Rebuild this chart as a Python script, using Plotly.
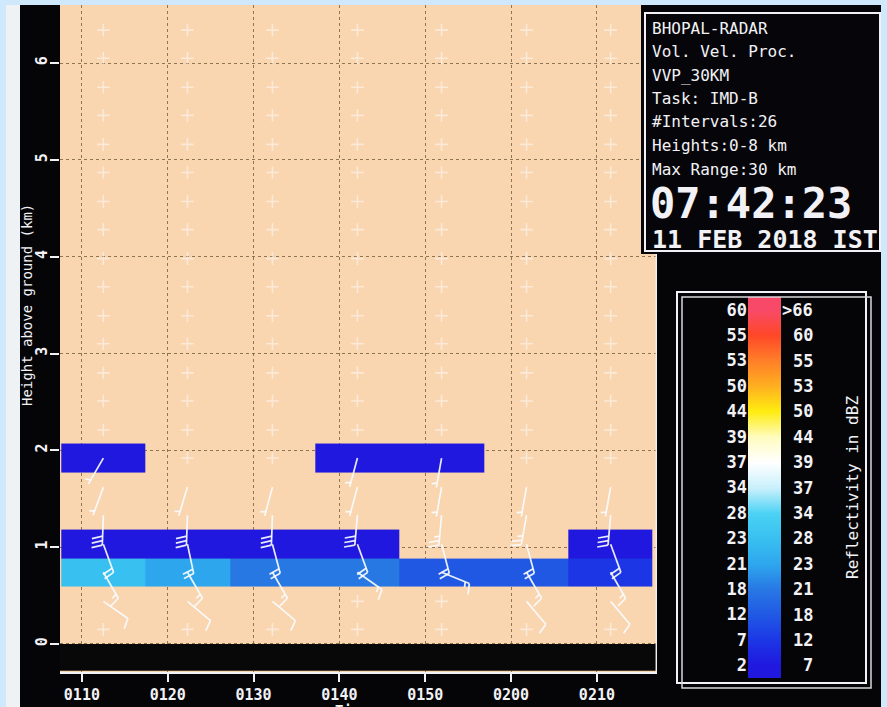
import math
import plotly.graph_objects as go

W, H = 887, 707

# ---------------- data ----------------
# scan (column) centre times, minutes after 01:00
scan_minutes = [12.5, 22.3, 32.2, 42.1, 51.9, 61.8, 71.6]
time_tick_minutes = [10, 20, 30, 40, 50, 60, 70]
time_tick_labels = ["0110", "0120", "0130", "0140", "0150", "0200", "0210"]
height_ticks_km = [0, 1, 2, 3, 4, 5, 6]

# VVP height levels (km) where the "+" (no data) symbols / barbs sit
vvp_levels_km = [0.15, 0.44, 0.74, 1.03, 1.33, 1.62, 1.92, 2.21, 2.51, 2.80, 3.10,
                 3.39, 3.69, 3.98, 4.28, 4.57, 4.87, 5.16, 5.46, 5.75, 6.05, 6.34]

# reflectivity (dBZ) per level (rows) and scan (columns)
refl_levels_km = [0.74, 1.03, 1.33, 1.62, 1.92]
refl_dbz = [
    [25, 22, 19, 19, 15, 13, 9],
    [5, 5, 5, 5, None, None, 5],
    [None, None, None, None, None, None, None],
    [None, None, None, None, None, None, None],
    [5, None, None, 5, 5, None, None],
]

# wind barbs: levels, direction (deg, wind from) and speed (kt) per scan
barb_levels_km = [0.44, 0.74, 1.03, 1.33, 1.62, 1.92]
barb_dir_deg = [
    [125, 150, 160, 182, 200, 210],
    [130, 150, 168, 182, 197, None],
    [130, 150, 165, 182, 195, None],
    [None, 125, 160, 185, 195, 195],
    [None, 112, 165, 185, 190, 190],
    [140, 150, 165, 190, 190, None],
    [140, 150, 160, 185, 190, None],
]
barb_speed_kt = [
    [10, 15, 20, 30, 5, 5],
    [10, 15, 20, 30, 5, None],
    [10, 15, 20, 30, 5, None],
    [None, 15, 20, 30, 5, 5],
    [None, 15, 20, 25, 5, 5],
    [10, 15, 20, 25, 5, None],
    [10, 15, 20, 30, 5, None],
]

# colour legend (reflectivity in dBZ)
dbz_bin_lower = [2, 7, 12, 18, 21, 23, 28, 34, 37, 39, 44, 50, 53, 55, 60]
dbz_bin_upper_labels = ["7", "12", "18", "21", "23", "28", "34", "37", "39",
                        "44", "50", "53", "55", "60", ">66"]
dbz_max = 66
dbz_bin_colors = ["#2018de", "#1c36e6", "#2058e4", "#2878e4", "#2ea6ee", "#38c0f0",
                  "#4cd2f4", "#c8f0fc", "#ffffff", "#fffcc0", "#ffec10", "#ffb020",
                  "#ff8028", "#ff4828", "#f84a68"]

info_lines = ["BHOPAL-RADAR", "Vol. Vel. Proc.", "VVP_30KM", "Task: IMD-B",
              "#Intervals:26", "Heights:0-8 km", "Max Range:30 km"]
clock_text = "07:42:23"
date_text = "11 FEB 2018 IST"

# ---------------- geometry ----------------
x_range = [7.45, 77.0]
y_range = [-0.29, 6.6]
PX_L, PX_R, PX_T, PX_B = 60, 657, 5, 672
sx = (PX_R - PX_L) / (x_range[1] - x_range[0])
sy = (PX_B - PX_T) / (y_range[1] - y_range[0])


def fx(px):
    return px / W


def fy(py):
    return 1 - py / H


MONO = "DejaVu Sans Mono"
WHITE = "#f2f2f6"

# discrete colour scale for the data cells
edges = dbz_bin_lower + [dbz_max]
span = dbz_max - dbz_bin_lower[0]
disc_scale = []
for i, c in enumerate(dbz_bin_colors):
    disc_scale.append([(edges[i] - edges[0]) / span, c])
    disc_scale.append([(edges[i + 1] - edges[0]) / span, c])
n_bins = len(dbz_bin_colors)
cont_scale = [[i / (n_bins - 1), c] for i, c in enumerate(dbz_bin_colors)]

fig = go.Figure()

# reflectivity cells
fig.add_trace(go.Heatmap(
    x=scan_minutes, y=refl_levels_km, z=refl_dbz,
    colorscale=disc_scale, zmin=edges[0], zmax=dbz_max,
    showscale=False, hoverinfo="skip", xaxis="x", yaxis="y"))

# "+" symbols at levels with no wind data
mx, my = [], []
for c, t in enumerate(scan_minutes):
    for h in vvp_levels_km:
        has = False
        for j, bl in enumerate(barb_levels_km):
            if abs(bl - h) < 1e-6 and barb_dir_deg[c][j] is not None:
                has = True
        if not has:
            mx.append(t)
            my.append(h)
fig.add_trace(go.Scatter(
    x=mx, y=my, mode="markers", hoverinfo="skip",
    marker=dict(symbol="cross-thin", size=9,
                line=dict(color="rgba(255,255,255,0.5)", width=1.6)),
    xaxis="x", yaxis="y"))

# wind barbs
SHAFT, FEATHER, STEP = 30.0, 11.0, 4.5
bx, by = [], []
for c, t in enumerate(scan_minutes):
    for j, h in enumerate(barb_levels_km):
        d = barb_dir_deg[c][j]
        s = barb_speed_kt[c][j]
        if d is None:
            continue
        r = math.radians(d)
        ux, uy = math.sin(r), math.cos(r)
        bx += [t, t + SHAFT * ux / sx, None]
        by += [h, h + SHAFT * uy / sy, None]
        rf = math.radians(d + 75)
        fxv, fyv = math.sin(rf), math.cos(rf)
        full = s // 10
        half = (s % 10) >= 5
        pos = SHAFT
        for k in range(full):
            px0, py0 = pos * ux, pos * uy
            bx += [t + px0 / sx, t + (px0 + FEATHER * fxv) / sx, None]
            by += [h + py0 / sy, h + (py0 + FEATHER * fyv) / sy, None]
            pos -= STEP
        if half:
            if full == 0:
                pos -= STEP
            px0, py0 = pos * ux, pos * uy
            bx += [t + px0 / sx, t + (px0 + FEATHER / 2 * fxv) / sx, None]
            by += [h + py0 / sy, h + (py0 + FEATHER / 2 * fyv) / sy, None]
fig.add_trace(go.Scatter(
    x=bx, y=by, mode="lines", hoverinfo="skip",
    line=dict(color="rgba(250,252,255,0.92)", width=1.7),
    xaxis="x", yaxis="y"))

# colour legend strip
fig.add_trace(go.Heatmap(
    z=[[i, i] for i in range(n_bins)], x=[0, 1], y=list(range(n_bins)),
    colorscale=cont_scale, zmin=0, zmax=n_bins - 1, zsmooth="best",
    showscale=False, hoverinfo="skip", xaxis="x2", yaxis="y2"))

shapes = []
# black band below ground
shapes.append(dict(type="rect", xref="x", yref="y", x0=x_range[0], x1=x_range[1],
                   y0=-0.278, y1=0, fillcolor="#080808", line=dict(width=0), layer="above"))
# right white frame line of plot
shapes.append(dict(type="line", xref="x", yref="y", x0=x_range[1] - 0.05, x1=x_range[1] - 0.05,
                   y0=y_range[0], y1=y_range[1], line=dict(color=WHITE, width=2), layer="above"))
# info box
shapes.append(dict(type="rect", xref="paper", yref="paper", x0=fx(641), x1=1, y0=fy(254), y1=fy(5),
                   fillcolor="#06060a", line=dict(width=0), layer="above"))
shapes.append(dict(type="rect", xref="paper", yref="paper", x0=fx(645), x1=fx(880), y0=fy(251), y1=fy(13),
                   fillcolor="rgba(0,0,0,0)", line=dict(color=WHITE, width=2), layer="above"))
# legend frame (double line)
shapes.append(dict(type="rect", xref="paper", yref="paper", x0=fx(677), x1=fx(866), y0=fy(683), y1=fy(292),
                   line=dict(color=WHITE, width=2), layer="above"))
shapes.append(dict(type="rect", xref="paper", yref="paper", x0=fx(682), x1=fx(871), y0=fy(688), y1=fy(297),
                   line=dict(color="#d8d8dc", width=1.5), layer="above"))
# photo frame strips
shapes.append(dict(type="rect", xref="paper", yref="paper", x0=0, x1=1, y0=fy(5), y1=1,
                   fillcolor="#cfe8fb", line=dict(width=0), layer="above"))
shapes.append(dict(type="rect", xref="paper", yref="paper", x0=0, x1=fx(6), y0=0, y1=1,
                   fillcolor="#cfe8fb", line=dict(width=0), layer="above"))
shapes.append(dict(type="rect", xref="paper", yref="paper", x0=fx(6), x1=fx(20), y0=0, y1=fy(5),
                   fillcolor="#eef2f5", line=dict(width=0), layer="above"))
shapes.append(dict(type="rect", xref="paper", yref="paper", x0=fx(881), x1=1, y0=0, y1=1,
                   fillcolor="#cfe8fb", line=dict(width=0), layer="above"))

ann = []
for i, line in enumerate(info_lines):
    ann.append(dict(text=line, xref="paper", yref="paper", x=fx(650), y=fy(28 + i * 23.5),
                    xanchor="left", yanchor="middle", showarrow=False,
                    font=dict(family=MONO, size=16, color=WHITE)))
ann.append(dict(text=clock_text, xref="paper", yref="paper", x=fx(648), y=fy(203),
                xanchor="left", yanchor="middle", showarrow=False,
                font=dict(family=MONO, size=42, color=WHITE, weight="bold")))
ann.append(dict(text=date_text, xref="paper", yref="paper", x=fx(650), y=fy(239),
                xanchor="left", yanchor="middle", showarrow=False,
                font=dict(family=MONO, size=25, color=WHITE, weight="bold")))
ann.append(dict(text="Height above ground (km)", xref="paper", yref="paper", x=fx(27), y=fy(305),
                xanchor="center", yanchor="middle", textangle=-90, showarrow=False,
                font=dict(family=MONO, size=14, color=WHITE)))
ann.append(dict(text="Time", xref="paper", yref="paper", x=fx(352), y=fy(700),
                xanchor="center", yanchor="top", showarrow=False,
                font=dict(family=MONO, size=14, color=WHITE, weight="bold")))
ann.append(dict(text="Reflectivity in dBZ", xref="paper", yref="paper", x=fx(852), y=fy(488),
                xanchor="center", yanchor="middle", textangle=-90, showarrow=False,
                font=dict(family=MONO, size=16, color=WHITE)))
for i, lab in enumerate(dbz_bin_upper_labels):
    ann.append(dict(text=lab, xref="paper", yref="y2", x=fx(815), y=i,
                    xanchor="right", yanchor="middle", showarrow=False,
                    font=dict(family=MONO, size=17, color=WHITE, weight="bold")))

fig.update_layout(
    template="none",
    width=W, height=H,
    margin=dict(l=0, r=0, t=0, b=0),
    paper_bgcolor="#050507",
    plot_bgcolor="#f9d5b0",
    showlegend=False,
    shapes=shapes,
    annotations=ann,
    xaxis=dict(domain=[fx(PX_L), fx(PX_R)], range=x_range, anchor="y",
               tickmode="array", tickvals=time_tick_minutes, ticktext=time_tick_labels,
               tickfont=dict(family=MONO, size=15, color=WHITE, weight="bold"),
               ticks="outside", ticklen=8, tickwidth=2, tickcolor=WHITE,
               showline=True, linecolor=WHITE, linewidth=2,
               showgrid=True, gridcolor="rgba(105,85,55,0.75)", griddash="dot", gridwidth=1,
               zeroline=False, automargin=False, fixedrange=True),
    yaxis=dict(domain=[fy(PX_B), fy(PX_T)], range=y_range, anchor="x",
               tickmode="array", tickvals=height_ticks_km,
               ticktext=[str(v) for v in height_ticks_km], tickangle=-90,
               tickfont=dict(family=MONO, size=15, color=WHITE, weight="bold"),
               ticks="outside", ticklen=9, tickwidth=2, tickcolor=WHITE,
               ticklabelstandoff=-3,
               showline=False,
               showgrid=True, gridcolor="rgba(105,85,55,0.75)", griddash="dot", gridwidth=1,
               zeroline=False, automargin=False, fixedrange=True),
    xaxis2=dict(domain=[fx(748), fx(781)], range=[-0.5, 1.5], anchor="y2",
                visible=False, fixedrange=True, automargin=False),
    yaxis2=dict(domain=[fy(678), fy(297)], range=[-0.5, n_bins - 0.5], anchor="x2",
                tickmode="array", tickvals=list(range(n_bins)),
                ticktext=[str(v) for v in dbz_bin_lower],
                tickfont=dict(family=MONO, size=17, color=WHITE, weight="bold"),
                ticks="", showgrid=False, zeroline=False, showline=False,
                automargin=False, fixedrange=True),
)

fig.write_html("out.html",
               config={"displayModeBar": False},
               post_script="document.body.style.margin='0px';"
                           "document.body.style.overflow='hidden';")
